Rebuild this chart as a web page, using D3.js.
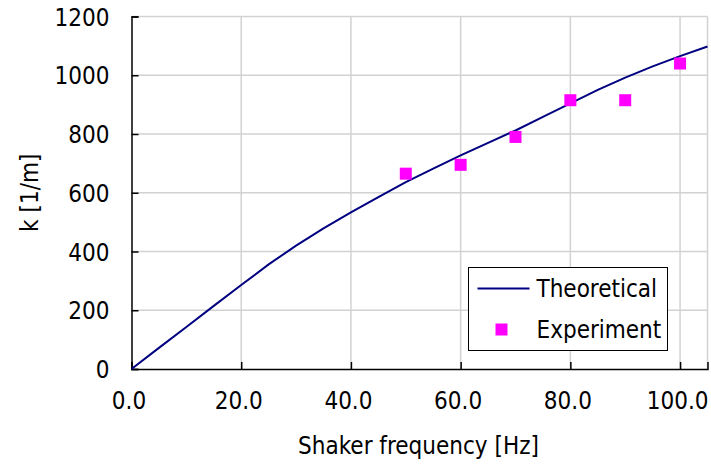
<!DOCTYPE html>
<html>
<head>
<meta charset="utf-8">
<script src="https://cdn.jsdelivr.net/npm/d3@7"></script>
<style>
  body { margin: 0; background: #fff; }
  text { font-family: "DejaVu Sans Condensed", "DejaVu Sans", sans-serif; fill: #000; }
  .grid line { stroke: #d2d2d2; stroke-width: 1.5; }
  .line { fill: none; stroke: #000080; stroke-width: 2; }
</style>
</head>
<body>
<div class="graph"></div>
<script>
// theoretical curve
var theoFreq = [0, 5, 10, 15, 20, 25, 30, 35, 40, 45, 50, 55, 60, 65, 70, 75, 80, 85, 90, 95, 100, 105];
var theoK    = [0, 72, 143, 215, 286, 356, 420, 479, 533, 585, 636, 682, 727, 770, 812, 858, 904, 950, 992, 1030, 1065, 1098];

// experiment points
var expFreq = [50, 60, 70, 80, 90, 100];
var expK    = [665, 695, 790, 915, 915, 1040];

var xTicks = [0, 20, 40, 60, 80, 100];
var yTicks = [0, 200, 400, 600, 800, 1000, 1200];

// set the dimensions and margins of the graph
var margin = {top: 16.5, right: 3.5, bottom: 98, left: 131.5},
    width = 711 - margin.left - margin.right,
    height = 467 - margin.top - margin.bottom;

var x = d3.scaleLinear().domain([0, 105]).range([0, width]);
var y = d3.scaleLinear().domain([0, 1200]).range([height, 0]);

var valueline = d3.line()
    .x(function(d) { return x(d.f); })
    .y(function(d) { return y(d.k); });

var svg = d3.select(".graph").append("svg")
    .attr("width", 711)
    .attr("height", 467)
  .append("g")
    .attr("transform", "translate(" + margin.left + "," + margin.top + ")");

// grid lines
svg.append("g").attr("class", "grid")
  .selectAll("line").data(yTicks.slice(1)).enter().append("line")
    .attr("x1", 0).attr("x2", width)
    .attr("y1", function(d) { return y(d); })
    .attr("y2", function(d) { return y(d); });

svg.append("g").attr("class", "grid")
  .selectAll("line").data(xTicks.slice(1).concat([105])).enter().append("line")
    .attr("x1", function(d) { return x(d); })
    .attr("x2", function(d) { return x(d); })
    .attr("y1", 0).attr("y2", height);

// axes, ticks pointing inwards
var xAxis = svg.append("g")
    .attr("transform", "translate(0," + height + ")")
    .call(d3.axisBottom(x).tickValues(xTicks).tickSize(-7).tickPadding(20)
      .tickFormat(d3.format(".1f")));
var yAxis = svg.append("g")
    .call(d3.axisLeft(y).tickValues(yTicks).tickSize(-7).tickPadding(22)
      .tickFormat(d3.format("d")));

[xAxis, yAxis].forEach(function(a) {
  a.select(".domain").attr("stroke", "#000").attr("stroke-width", 1.5);
  a.selectAll(".tick line").attr("stroke", "#000").attr("stroke-width", 1.5);
  a.selectAll(".tick text").style("font-size", "24px").attr("fill", "#000");
});
xAxis.selectAll(".tick text").attr("dx", -3).attr("dy", "0.85em");
yAxis.selectAll(".tick text").attr("dy", "0.36em");

// theoretical line
var theo = theoFreq.map(function(f, i) { return {f: f, k: theoK[i]}; });
svg.append("path")
    .data([theo])
    .attr("class", "line")
    .attr("d", valueline);

// experiment squares
var exp = expFreq.map(function(f, i) { return {f: f, k: expK[i]}; });
svg.selectAll("rect.dot")
    .data(exp)
  .enter().append("rect")
    .attr("class", "dot")
    .attr("x", function(d) { return x(d.f) - 6; })
    .attr("y", function(d) { return y(d.k) - 6; })
    .attr("width", 12)
    .attr("height", 12)
    .attr("fill", "#ff00ff");

// axis titles
svg.append("text")
    .attr("x", 287)
    .attr("y", 437.5)
    .attr("text-anchor", "middle")
    .style("font-size", "24px")
    .text("Shaker frequency [Hz]");

svg.append("text")
    .attr("transform", "translate(-94," + (height / 2) + ") rotate(-90)")
    .attr("text-anchor", "middle")
    .style("font-size", "24px")
    .text("k [1/m]");

// legend
var legend = svg.append("g")
    .attr("transform", "translate(" + (468.5 - margin.left) + "," + (267.5 - margin.top) + ")");
legend.append("rect")
    .attr("width", 199).attr("height", 83)
    .attr("fill", "#fff").attr("stroke", "#000").attr("stroke-width", 1);
legend.append("line")
    .attr("x1", 9).attr("x2", 61).attr("y1", 21).attr("y2", 21)
    .attr("stroke", "#000080").attr("stroke-width", 2);
legend.append("text").attr("x", 68).attr("y", 29.5)
    .style("font-size", "24px").text("Theoretical");
legend.append("rect")
    .attr("x", 27).attr("y", 56).attr("width", 12).attr("height", 12)
    .attr("fill", "#ff00ff");
legend.append("text").attr("x", 68).attr("y", 70.5)
    .style("font-size", "24px").text("Experiment");
</script>
</body>
</html>
